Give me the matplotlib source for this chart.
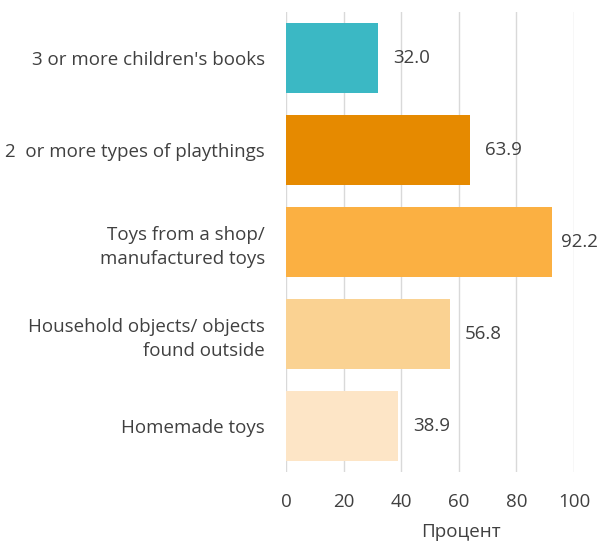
import matplotlib.pyplot as plt

categories = ["3 or more children's books",
              "2  or more types of playthings",
              "Toys from a shop/\nmanufactured toys",
              "Household objects/ objects\nfound outside",
              "Homemade toys"]
values = [32.0, 63.9, 92.2, 56.8, 38.9]
colors = ["#3BB8C4", "#E68A00", "#FBB042", "#FAD292", "#FDE5C6"]

plt.rcParams['font.family'] = ['Open Sans', 'DejaVu Sans']
txt = "#404040"
fs = 13.5

fig = plt.figure(figsize=(6, 5.44), dpi=100)
ax = fig.add_axes([286 / 600, 1 - 472 / 544, 288 / 600, 460 / 544])

y = list(range(len(categories)))
ax.barh(y, values, height=0.76, color=colors, zorder=3)

labels = []
for yi, v in zip(y, values):
    t = ax.annotate(f"{v:.1f}", (v, yi), xytext=(11, 0), textcoords="offset points",
                    va="center", ha="left", fontsize=fs, color=txt,
                    annotation_clip=False)
    labels.append(t)

ax.set_xlim(0, 100)
ax.set_ylim(len(categories) - 0.5, -0.5)
ax.set_yticks(y)
ax.set_yticklabels(categories, fontsize=fs, color=txt, linespacing=1.45)
ax.set_xticks([0, 20, 40, 60, 80, 100])
ax.tick_params(axis="x", colors=txt, labelsize=fs, length=0, pad=15)
ax.tick_params(axis="y", length=0, pad=15)
ax.grid(axis="x", color="#D9D9D9", linewidth=1, zorder=0)
for s in ax.spines.values():
    s.set_visible(False)

ax.set_xlabel("Процент", fontsize=fs, color=txt)
ax.xaxis.set_label_coords(0.608, -0.11)

# keep value labels inside the figure, like Excel does
fig.canvas.draw()
r = fig.canvas.get_renderer()
for t in labels:
    bb = t.get_window_extent(r)
    if bb.x1 > 598:
        dx = (bb.x1 - 598) * 72 / fig.dpi
        t.set_position((11 - dx, 0))

fig.savefig("out.png", dpi=100)
